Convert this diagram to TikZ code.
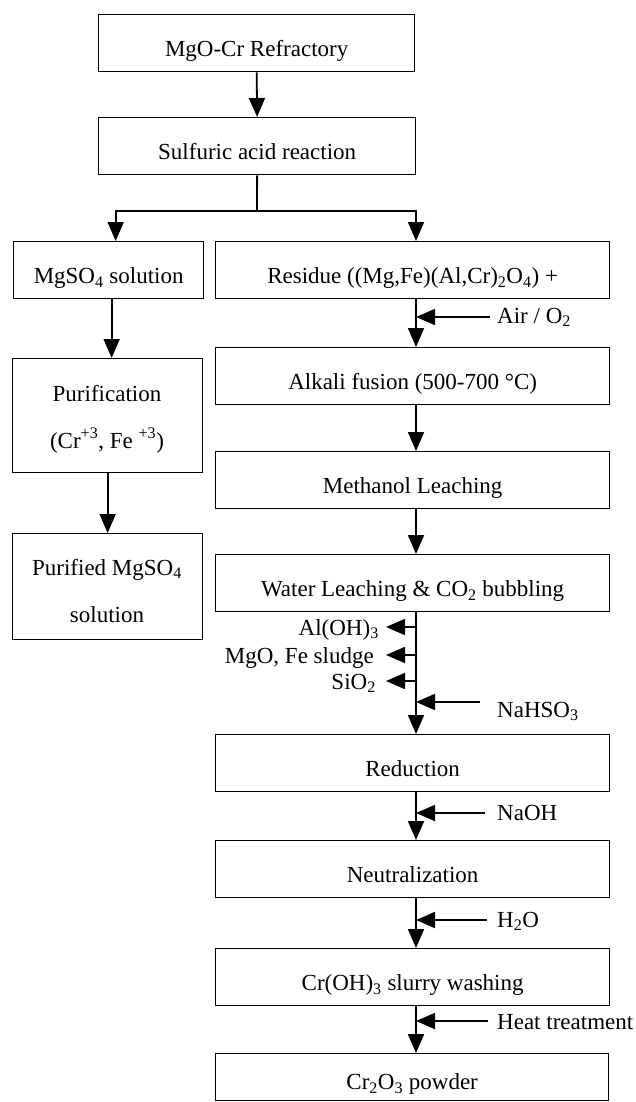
\documentclass[tikz,border=0pt]{standalone}
\usepackage{fontspec}
\setmainfont{Liberation Serif}
\usetikzlibrary{arrows.meta}
\begin{document}
\begin{tikzpicture}[x=1pt,y=-1pt,
  every node/.style={font=\fontsize{23}{27}\selectfont},
  box/.style={draw, line width=1.3pt, inner sep=0pt, text height=42pt, text depth=15pt, anchor=north west},
  wbox/.style={box, minimum width=394pt},
  lbox/.style={box, minimum width=190pt},
  tall/.style={draw, line width=1.3pt, inner sep=0pt, minimum width=190pt, anchor=north west},
  lbl/.style={inner sep=0pt},
  ln/.style={line width=1.8pt},
  arr/.style={line width=1.8pt, -{Triangle[length=19pt,width=16pt]}}
]
\useasboundingbox (0,0) rectangle (635,1102);
\coordinate (sp) at (416,0);

% boxes
\node[box, minimum width=316pt] (b1) at (98,14) {MgO-Cr Refractory};
\node[box, minimum width=317pt] (b2) at (98,117) {Sulfuric acid reaction};
\node[lbox] (mg) at (13,241) {MgSO\textsubscript{4} solution};
\node[wbox] (res) at (215,241) {Residue ((Mg,Fe)(Al,Cr)\textsubscript{2}O\textsubscript{4}) +};
\node[tall, minimum height=114pt] (pur) at (12,358) {};
\node[lbl, anchor=base] (purA) at (107,401) {Purification};
\node[lbl, anchor=base] (purB) at (107,448) {(Cr\textsuperscript{+3}, Fe \textsuperscript{+3})};
\node[wbox] (alk) at (215,347) {Alkali fusion (500-700 °C)};
\node[wbox] (met) at (215,451) {Methanol Leaching};
\node[tall, minimum height=106pt] (pmg) at (12,533) {};
\node[lbl, anchor=base] (pmgA) at (107,575) {Purified MgSO\textsubscript{4}};
\node[lbl, anchor=base] (pmgB) at (107,622) {solution};
\node[wbox] (wat) at (215,554) {Water Leaching \& CO\textsubscript{2} bubbling};
\node[wbox] (red) at (215,734) {Reduction};
\node[wbox] (neu) at (215,840) {Neutralization};
\node[wbox] (crw) at (215,948) {Cr(OH)\textsubscript{3} slurry washing};
\node[box, minimum width=393pt, text height=36pt, text depth=11pt] (cro) at (215,1053) {Cr\textsubscript{2}O\textsubscript{3} powder};

% main flow
\draw[arr] (b1.south) -- (b2.north);
\coordinate (split) at (257,211);
\draw[ln] (b2.south) -- (split);
\draw[arr] (split) -| ([xshift=7pt]mg.north);
\draw[arr] (split) -| (res.north -| sp);
\draw[arr] ([xshift=3pt]mg.south) -- ([xshift=3pt]mg.south |- pur.north);
\draw[arr] (pur.south) -- (pmg.north);
\draw[arr] (res.south -| sp) -- (alk.north -| sp);
\draw[arr] (alk.south -| sp) -- (met.north -| sp);
\draw[arr] (met.south -| sp) -- (wat.north -| sp);
\draw[arr] (wat.south -| sp) -- (red.north -| sp);
\draw[arr] (red.south -| sp) -- (neu.north -| sp);
\draw[arr] (neu.south -| sp) -- (crw.north -| sp);
\draw[arr] (crw.south -| sp) -- (cro.north -| sp);

% inputs
\coordinate (airS) at (490,317);
\draw[arr] (airS) -- (airS -| sp);
\node[lbl, anchor=base west] (airL) at (497,323) {Air / O\textsubscript{2}};
\coordinate (naS) at (480,702);
\draw[arr] (naS) -- (naS -| sp);
\node[lbl, anchor=base west] (naL) at (497,717) {NaHSO\textsubscript{3}};
\coordinate (ohS) at (485,813);
\draw[arr] (ohS) -- (ohS -| sp);
\node[lbl, anchor=base west] (ohL) at (497,820) {NaOH};
\coordinate (hS) at (487,920);
\draw[arr] (hS) -- (hS -| sp);
\node[lbl, anchor=base west] (hL) at (497,927) {H\textsubscript{2}O};
\coordinate (htS) at (488,1021);
\draw[arr] (htS) -- (htS -| sp);
\node[lbl, anchor=base west] (htL) at (497,1029) {Heat treatment};

% outputs
\coordinate (o1) at (416,627); \coordinate (o1t) at (386,627);
\coordinate (o2) at (416,655); \coordinate (o2t) at (386,655);
\coordinate (o3) at (416,681); \coordinate (o3t) at (386,681);
\draw[arr] (o1) -- (o1t);
\draw[arr] (o2) -- (o2t);
\draw[arr] (o3) -- (o3t);
\node[lbl, anchor=base east] (alL) at (379,635) {Al(OH)\textsubscript{3}};
\node[lbl, anchor=base east] (mgL) at (374,663) {MgO, Fe sludge};
\node[lbl, anchor=base east] (siL) at (376,689) {SiO\textsubscript{2}};
\end{tikzpicture}
\end{document}
